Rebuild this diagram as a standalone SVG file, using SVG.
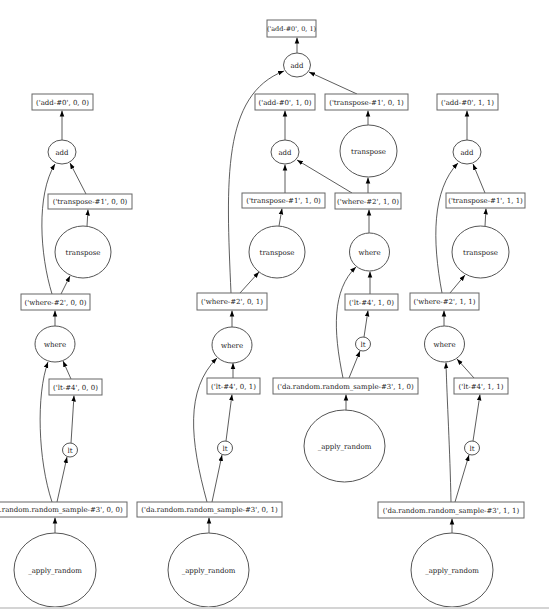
<svg xmlns="http://www.w3.org/2000/svg" width="549" height="611" viewBox="0 0 549 611">
<style>
.b{fill:#fff;stroke:#666;stroke-width:1}
.e{fill:none;stroke:#555;stroke-width:1}
.t{font-family:"DejaVu Serif","Liberation Serif",serif;font-size:7px;fill:#222;text-anchor:middle}
.s{font-size:6.5px}
.c{fill:none;stroke:#333;stroke-width:0.8;marker-end:url(#ah)}
</style>
<defs>
<marker id="ah" viewBox="0 0 10 10" refX="10" refY="5" markerWidth="6" markerHeight="6" markerUnits="userSpaceOnUse" orient="auto"><path d="M0,1.2 L10,5 L0,8.8 z" fill="#000"/></marker>
</defs>
<rect width="549" height="611" fill="#fff"/>
<g id="edges">
<path class="c" d="M62,140 L62,110.5"/>
<path class="c" d="M86,194 L70,163"/>
<path class="c" d="M87,226 L88,209.5"/>
<path class="c" d="M61,294 L70,276"/>
<path class="c" d="M52,294 C40,255 36,195 55,164"/>
<path class="c" d="M55,326 L55,310.5"/>
<path class="c" d="M71,379 L63,361"/>
<path class="c" d="M71,443 L74,395.5"/>
<path class="c" d="M57,502 L67,457"/>
<path class="c" d="M52,502 C38,460 36,395 48,362"/>
<path class="c" d="M55,533 L55,517.5"/>
<path class="c" d="M297,53 L297,37.5"/>
<path class="c" d="M231,293 C226,180 222,95 284,71"/>
<path class="c" d="M357,94 L309,72"/>
<path class="c" d="M368,125 L368,110.5"/>
<path class="c" d="M368,193 L368,177.5"/>
<path class="c" d="M352,193 L297,160"/>
<path class="c" d="M285,193 L285,164.5"/>
<path class="c" d="M285,140 L285,110.5"/>
<path class="c" d="M279,226 L282,208.5"/>
<path class="c" d="M240,293 L259,272"/>
<path class="c" d="M232,327 L232,310.5"/>
<path class="c" d="M233,378 L233,363"/>
<path class="c" d="M226,441 L232,394.5"/>
<path class="c" d="M212,502 L222,455"/>
<path class="c" d="M207,502 C190,440 185,390 217,358"/>
<path class="c" d="M209,533 L209,517.5"/>
<path class="c" d="M369,233 L369,209.5"/>
<path class="c" d="M370,294 L370,271.5"/>
<path class="c" d="M364,337 L368,310.5"/>
<path class="c" d="M349,378 L360,351"/>
<path class="c" d="M343,378 C333,330 332,290 356,267"/>
<path class="c" d="M346,410 L346,394.5"/>
<path class="c" d="M467,140 L467,110.5"/>
<path class="c" d="M485,193 L473,164"/>
<path class="c" d="M485,226 L486,208.5"/>
<path class="c" d="M450,293 L465,275"/>
<path class="c" d="M442,293 C432,240 432,190 458,163"/>
<path class="c" d="M444,326 L444,310.5"/>
<path class="c" d="M474,378 L457,359"/>
<path class="c" d="M473,441 L480,394.5"/>
<path class="c" d="M455,502 L469,455"/>
<path class="c" d="M451,502 C450,450 447,400 446,362.5"/>
<path class="c" d="M452,533 L452,518.5"/>
</g>
<g id="add00"><rect class="b" x="32" y="94" width="61" height="16"/><text class="t" x="62.5" y="104.5">('add-#0', 0, 0)</text></g>
<g id="tr00"><rect class="b" x="48" y="194" width="84" height="15"/><text class="t" x="90" y="204">('transpose-#1', 0, 0)</text></g>
<g id="wh00"><rect class="b" x="21" y="294" width="69" height="16"/><text class="t" x="55.5" y="304.5">('where-#2', 0, 0)</text></g>
<g id="lt00"><rect class="b" x="49" y="379" width="53" height="16"/><text class="t" x="75.5" y="389.5">('lt-#4', 0, 0)</text></g>
<g id="da00"><rect class="b" x="-18" y="502" width="145" height="15"/><text class="t" x="54.5" y="512">('da.random.random_sample-#3', 0, 0)</text></g>
<g id="add01"><rect class="b" x="267" y="20" width="49" height="17"/><text class="t s" x="291.5" y="31">('add-#0', 0, 1)</text></g>
<g id="add10"><rect class="b" x="255" y="94" width="60" height="16"/><text class="t" x="285" y="104.5">('add-#0', 1, 0)</text></g>
<g id="tr01"><rect class="b" x="325" y="94" width="83" height="16"/><text class="t" x="366.5" y="104.5">('transpose-#1', 0, 1)</text></g>
<g id="tr10"><rect class="b" x="242" y="193" width="83" height="15"/><text class="t" x="283.5" y="203">('transpose-#1', 1, 0)</text></g>
<g id="wh10"><rect class="b" x="335" y="193" width="66" height="16"/><text class="t" x="368" y="203.5">('where-#2', 1, 0)</text></g>
<g id="wh01"><rect class="b" x="197" y="293" width="70" height="17"/><text class="t" x="232" y="304">('where-#2', 0, 1)</text></g>
<g id="lt01"><rect class="b" x="207" y="378" width="53" height="16"/><text class="t" x="233.5" y="388.5">('lt-#4', 0, 1)</text></g>
<g id="da01"><rect class="b" x="137" y="502" width="145" height="15"/><text class="t" x="209.5" y="512">('da.random.random_sample-#3', 0, 1)</text></g>
<g id="lt10"><rect class="b" x="345" y="294" width="53" height="16"/><text class="t" x="371.5" y="304.5">('lt-#4', 1, 0)</text></g>
<g id="da10"><rect class="b" x="273" y="378" width="145" height="16"/><text class="t" x="345.5" y="388.5">('da.random.random_sample-#3', 1, 0)</text></g>
<g id="add11"><rect class="b" x="437" y="94" width="61" height="16"/><text class="t" x="467.5" y="104.5">('add-#0', 1, 1)</text></g>
<g id="tr11"><rect class="b" x="446" y="193" width="79" height="15"/><text class="t" x="485.5" y="203">('transpose-#1', 1, 1)</text></g>
<g id="wh11"><rect class="b" x="410" y="293" width="69" height="17"/><text class="t" x="444.5" y="304">('where-#2', 1, 1)</text></g>
<g id="lt11"><rect class="b" x="454" y="378" width="54" height="16"/><text class="t" x="481" y="388.5">('lt-#4', 1, 1)</text></g>
<g id="da11"><rect class="b" x="378" y="502" width="146" height="16"/><text class="t" x="451" y="512.5">('da.random.random_sample-#3', 1, 1)</text></g>
<g id="addA"><ellipse class="e" cx="62" cy="152" rx="14" ry="12"/><text class="t" x="62" y="154.5">add</text></g>
<g id="trA"><ellipse class="e" cx="83" cy="252" rx="28" ry="26"/><text class="t" x="83" y="254.5">transpose</text></g>
<g id="whA"><ellipse class="e" cx="55" cy="344" rx="20" ry="18"/><text class="t" x="55" y="346.5">where</text></g>
<g id="ltA"><ellipse class="e" cx="70" cy="450" rx="7.5" ry="7"/><text class="t" x="70" y="452.5">lt</text></g>
<g id="apA"><ellipse class="e" cx="55" cy="570" rx="41" ry="37"/><text class="t" x="55" y="572.5">_apply_random</text></g>
<g id="addTop"><ellipse class="e" cx="297" cy="65" rx="13.5" ry="12"/><text class="t" x="297" y="67.5">add</text></g>
<g id="addMid"><ellipse class="e" cx="285" cy="152" rx="14" ry="12"/><text class="t" x="285" y="154.5">add</text></g>
<g id="trTopR"><ellipse class="e" cx="368.5" cy="151" rx="28.5" ry="26"/><text class="t" x="368.5" y="153.5">transpose</text></g>
<g id="trB"><ellipse class="e" cx="277" cy="252" rx="28" ry="26"/><text class="t" x="277" y="254.5">transpose</text></g>
<g id="whB"><ellipse class="e" cx="232" cy="345" rx="20" ry="18"/><text class="t" x="232" y="347.5">where</text></g>
<g id="ltB"><ellipse class="e" cx="225" cy="448" rx="7.5" ry="7"/><text class="t" x="225" y="450.5">lt</text></g>
<g id="apB"><ellipse class="e" cx="208.5" cy="570" rx="40.5" ry="37"/><text class="t" x="208.5" y="572.5">_apply_random</text></g>
<g id="whC"><ellipse class="e" cx="369.5" cy="252" rx="20" ry="19"/><text class="t" x="369.5" y="254.5">where</text></g>
<g id="ltC"><ellipse class="e" cx="363" cy="344" rx="7.5" ry="7"/><text class="t" x="363" y="346.5">lt</text></g>
<g id="apC"><ellipse class="e" cx="344.5" cy="446" rx="40.5" ry="36"/><text class="t" x="344.5" y="448.5">_apply_random</text></g>
<g id="addD"><ellipse class="e" cx="467" cy="152" rx="14" ry="12"/><text class="t" x="467" y="154.5">add</text></g>
<g id="trD"><ellipse class="e" cx="480.5" cy="252" rx="28.5" ry="26"/><text class="t" x="480.5" y="254.5">transpose</text></g>
<g id="whD"><ellipse class="e" cx="444.5" cy="344" rx="20" ry="18"/><text class="t" x="444.5" y="346.5">where</text></g>
<g id="ltD"><ellipse class="e" cx="472" cy="448" rx="7.5" ry="7"/><text class="t" x="472" y="450.5">lt</text></g>
<g id="apD"><ellipse class="e" cx="452" cy="570" rx="41" ry="37"/><text class="t" x="452" y="572.5">_apply_random</text></g>
<rect x="0" y="607" width="549" height="2" fill="#d4d4d4"/>
</svg>
